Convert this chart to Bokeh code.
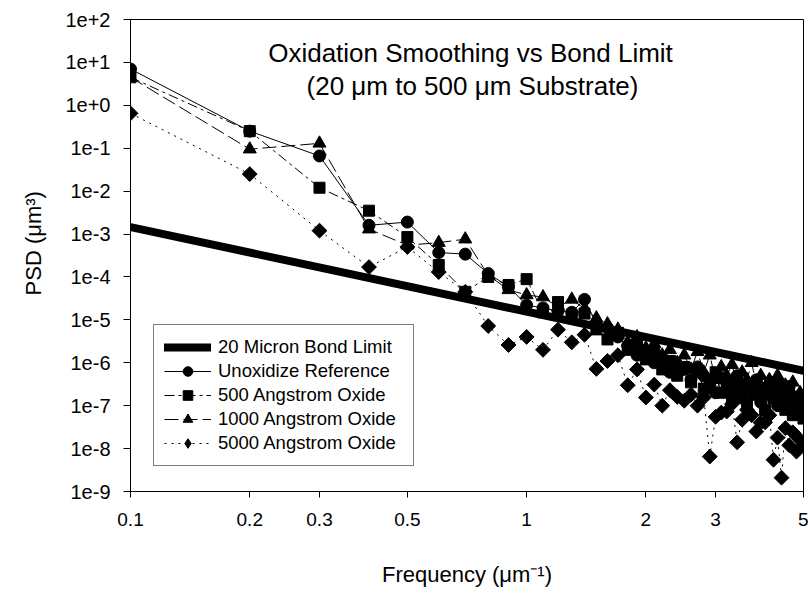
import numpy as np
from bokeh.plotting import figure
from bokeh.models import Range1d, FixedTicker, Label, Legend, LegendItem
from bokeh.embed import file_html
from bokeh.resources import INLINE

# ---------------- data ----------------
freq = [0.1, 0.2, 0.3, 0.4, 0.5, 0.6, 0.7, 0.8, 0.9, 1.0,
        1.1, 1.2, 1.3, 1.4, 1.5, 1.6, 1.7, 1.8, 1.9, 2.0,
        2.1, 2.2, 2.3, 2.4, 2.5, 2.6, 2.7, 2.8, 2.9, 3.0,
        3.1, 3.2, 3.3, 3.4, 3.5, 3.6, 3.7, 3.8, 3.9, 4.0,
        4.1, 4.2, 4.3, 4.4, 4.5, 4.6, 4.7, 4.8, 4.9, 5.0]

bond_freq = [0.1, 5.0]
bond_psd = [1.45e-3, 6.5e-7]

unoxidized = [7.0, 0.25, 0.066, 1.6e-3, 1.9e-3, 3.7e-4, 3.4e-4, 1.2e-4, 6.0e-5, 2.2e-5,
              1.9e-5, 1.6e-5, 1.5e-5, 3.0e-5, 8.0e-6, 6.5e-6, 4.0e-6, 2.5e-6, 1.5e-6, 1.8e-6,
              1.0e-6, 1.3e-6, 6.0e-7, 9.0e-7, 7.0e-7, 4.0e-7, 8.0e-7, 5.0e-7, 3.0e-7, 2.0e-7,
              4.5e-7, 3.5e-7, 2.5e-7, 5.0e-7, 1.5e-7, 3.0e-7, 2.2e-7, 4.0e-7, 1.2e-7, 2.5e-7,
              1.8e-7, 3.5e-7, 1.0e-7, 2.0e-7, 1.4e-7, 2.8e-7, 9.0e-8, 1.6e-7, 1.1e-7, 7.0e-8]

oxide_500 = [4.5, 0.25, 0.012, 3.5e-3, 8.5e-4, 1.9e-4, 4.5e-5, 1.0e-4, 6.5e-5, 8.9e-5,
             1.5e-5, 2.6e-5, 1.2e-5, 1.4e-5, 6.0e-6, 3.5e-6, 5.0e-6, 2.0e-6, 2.5e-6, 1.2e-6,
             1.8e-6, 7.0e-7, 1.1e-6, 5.0e-7, 8.0e-7, 3.5e-7, 6.0e-7, 2.5e-7, 4.0e-7, 6.0e-7,
             2.0e-7, 3.0e-7, 1.5e-7, 4.0e-7, 2.5e-7, 1.2e-7, 3.0e-7, 1.8e-7, 2.5e-7, 8.0e-8,
             2.2e-7, 1.5e-7, 3.0e-7, 1.2e-7, 8.0e-8, 1.8e-7, 6.0e-8, 1.3e-7, 9.0e-8, 5.0e-8]

oxide_1000 = [4.5, 0.095, 0.13, 1.3e-3, 5.5e-4, 6.3e-4, 7.6e-4, 1.1e-4, 5.0e-5, 3.8e-5,
              3.4e-5, 2.0e-5, 3.0e-5, 1.8e-5, 1.1e-5, 8.0e-6, 6.0e-6, 3.0e-6, 4.0e-6, 2.2e-6,
              2.8e-6, 1.5e-6, 2.0e-6, 1.0e-6, 1.5e-6, 7.0e-7, 1.8e-6, 6.0e-7, 1.5e-6, 4.0e-7,
              8.0e-7, 5.0e-7, 9.0e-7, 3.0e-7, 6.0e-7, 4.0e-7, 1.0e-6, 3.0e-7, 5.0e-7, 2.0e-7,
              4.0e-7, 2.5e-7, 5.0e-7, 1.5e-7, 3.0e-7, 2.0e-7, 3.5e-7, 1.0e-7, 2.0e-7, 1.3e-7]

oxide_5000 = [0.65, 0.025, 1.2e-3, 1.7e-4, 5.0e-4, 1.3e-4, 4.5e-5, 7.2e-6, 2.6e-6, 4.0e-6,
              2.0e-6, 5.9e-6, 3.0e-6, 4.5e-6, 7.2e-7, 1.1e-6, 1.5e-6, 3.0e-7, 7.0e-7, 1.55e-7,
              3.1e-7, 1.0e-7, 2.3e-7, 1.6e-7, 1.3e-7, 1.8e-7, 1.0e-7, 1.55e-7, 6.5e-9, 5.5e-8,
              6.9e-8, 7.3e-8, 1.1e-7, 1.4e-8, 4.7e-8, 8.0e-8, 6.0e-8, 2.5e-8, 4.0e-8, 4.1e-8,
              6.0e-8, 5.5e-9, 1.8e-8, 2.1e-9, 3.0e-8, 1.2e-8, 2.4e-8, 8.5e-9, 1.6e-8, 1.2e-8]

series_names = ["20 Micron Bond Limit", "Unoxidize Reference", "500 Angstrom Oxide",
                "1000 Angstrom Oxide", "5000 Angstrom Oxide"]

x_ticks = [0.1, 0.2, 0.3, 0.5, 1, 2, 3, 5]
x_tick_labels = ["0.1", "0.2", "0.3", "0.5", "1", "2", "3", "5"]
y_ticks = [1e2, 1e1, 1e0, 1e-1, 1e-2, 1e-3, 1e-4, 1e-5, 1e-6, 1e-7, 1e-8, 1e-9]
y_tick_labels = ["1e+2", "1e+1", "1e+0", "1e-1", "1e-2", "1e-3", "1e-4", "1e-5",
                 "1e-6", "1e-7", "1e-8", "1e-9"]

title_lines = ["Oxidation Smoothing vs Bond Limit", "(20 \u03bcm to 500 \u03bcm Substrate)"]
x_title = "Frequency (\u03bcm\u207b\u00b9)"
y_title = "\u00a0\u00a0\u00a0\u00a0PSD (\u03bcm\u00b3)"

# ---------------- layout ----------------
W, H = 808, 589
FL, FR, FT, FB = 130, 803, 19, 492
FONT = "Liberation Sans"

X0, X1 = 0.1, 5.0
Y0, Y1 = 1e-9, 1e2


def dx(px):
    return 10 ** (np.log10(X0) + (px - FL) / (FR - FL) * np.log10(X1 / X0))


def dy(py):
    return 10 ** (np.log10(Y1) - (py - FT) / (FB - FT) * np.log10(Y1 / Y0))


p = figure(width=W, height=H, x_axis_type="log", y_axis_type="log",
           x_range=Range1d(X0, X1), y_range=Range1d(Y0, Y1),
           output_backend="svg", toolbar_location=None,
           min_border_left=FL, min_border_right=W - FR,
           min_border_top=FT, min_border_bottom=H - FB)
p.grid.visible = False
p.background_fill_color = "white"
p.border_fill_color = "white"
p.outline_line_color = "black"
p.outline_line_width = 1

for ax in (p.xaxis[0], p.yaxis[0]):
    ax.axis_line_color = "black"
    ax.axis_line_width = 1
    ax.major_tick_line_color = "black"
    ax.major_tick_in = 0
    ax.minor_tick_line_color = None
    ax.major_label_text_font = FONT
    ax.major_label_text_color = "black"
    ax.axis_label_text_font = FONT
    ax.axis_label_text_font_style = "normal"
    ax.axis_label_text_font_size = "22px"
    ax.axis_label_text_color = "black"

p.xaxis.ticker = FixedTicker(ticks=x_ticks, minor_ticks=[])
p.xaxis.major_label_overrides = {t: s for t, s in zip(x_ticks, x_tick_labels)}
p.xaxis.major_tick_out = 6
p.xaxis.major_label_standoff = 15
p.xaxis.major_label_text_font_size = "19px"
p.xaxis.axis_label = x_title
p.xaxis.axis_label_standoff = 33

p.yaxis.ticker = FixedTicker(ticks=y_ticks, minor_ticks=[])
p.yaxis.major_label_overrides = {t: s for t, s in zip(y_ticks, y_tick_labels)}
p.yaxis.major_tick_out = 7
p.yaxis.major_label_standoff = 13
p.yaxis.major_label_text_font_size = "20px"
p.yaxis.axis_label = y_title
p.yaxis.axis_label_standoff = 16

# ---------------- glyphs ----------------
r_bond = p.line(bond_freq, bond_psd, line_color="black", line_width=8, line_cap="round")

r_u_l = p.line(freq, unoxidized, line_color="black", line_width=1)
r_u_m = p.scatter(freq, unoxidized, marker="circle", size=12, fill_color="black", line_color="black")

r_5_l = p.line(freq, oxide_500, line_color="black", line_width=1, line_dash="10 4 3 4")
r_5_m = p.scatter(freq, oxide_500, marker="square", size=11, fill_color="black", line_color="black")

r_1_l = p.line(freq, oxide_1000, line_color="black", line_width=1, line_dash="14 5")
r_1_m = p.scatter(freq, oxide_1000, marker="triangle", size=13, fill_color="black", line_color="black")

r_50_l = p.line(freq, oxide_5000, line_color="black", line_width=1, line_dash="2 5")
# diamond symbol used for the legend key (sits fully under the rotated squares)
r_50_key = p.scatter(freq, oxide_5000, marker="diamond", size=13,
                     fill_color="black", line_color="black")
r_50_m = p.scatter(freq, oxide_5000, marker="square", angle=np.pi / 4, size=10.5,
                   fill_color="black", line_color="black")

legend = Legend(items=[
    LegendItem(label=series_names[0], renderers=[r_bond]),
    LegendItem(label=series_names[1], renderers=[r_u_l, r_u_m]),
    LegendItem(label=series_names[2], renderers=[r_5_l, r_5_m]),
    LegendItem(label=series_names[3], renderers=[r_1_l, r_1_m]),
    LegendItem(label=series_names[4], renderers=[r_50_l, r_50_key]),
], location=(23, 25))
legend.margin = 0
legend.padding = 10
legend.spacing = 0
legend.glyph_width = 47
legend.glyph_height = 24
legend.label_height = 20
legend.label_width = 185
legend.label_standoff = 7
legend.label_text_font = FONT
legend.label_text_font_size = "18.5px"
legend.label_text_color = "black"
legend.border_line_color = "black"
legend.border_line_width = 1
legend.background_fill_color = "white"
legend.background_fill_alpha = 1
p.add_layout(legend)

# ---------------- title ----------------
def add_label(text, px, py, size, align="left", angle=0.0):
    p.add_layout(Label(x=dx(px), y=dy(py), text=text, text_align=align,
                       text_baseline="alphabetic", angle=angle,
                       text_font=FONT, text_font_size=size, text_color="black"))


add_label(title_lines[0], 470, 53, "26px", align="center")
add_label(title_lines[1], 472, 86, "26px", align="center")

open("out.html", "w").write(file_html(p, INLINE))
